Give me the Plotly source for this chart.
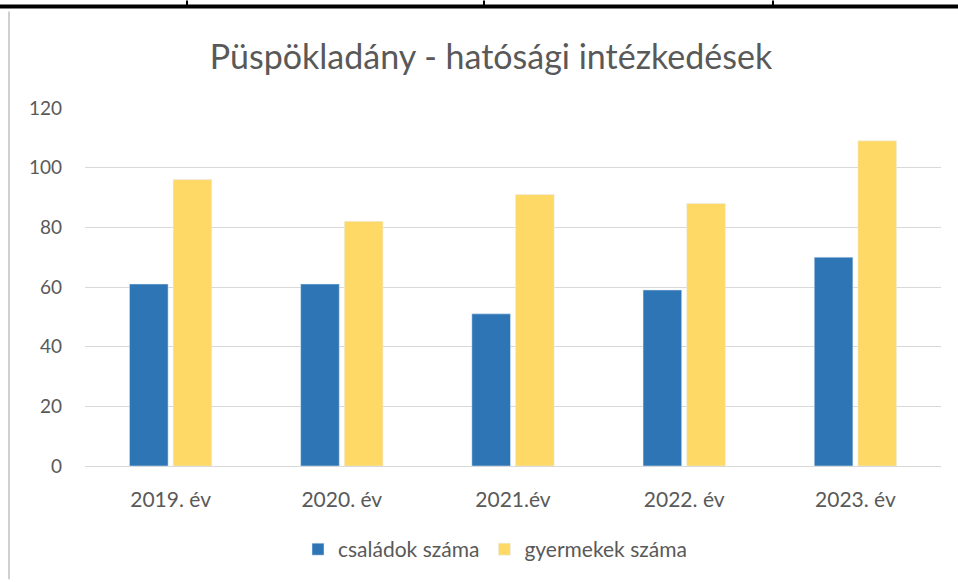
"""Püspökladány - hatósági intézkedések, grouped bar chart."""

import plotly.graph_objects as go

years = ["2019. év", "2020. év", "2021.év", "2022. év", "2023. év"]
csaladok = [61, 61, 51, 59, 70]
gyermekek = [96, 82, 91, 88, 109]

_BLUE = "#2E75B6"
_YELLOW = "#FFD966"
_TEXT = "#595959"
_GRID = "#D9D9D9"
_FONT = "Lato, 'Open Sans', sans-serif"

W, H = 958, 582
L, R, T, B = 85, 941, 108, 468


def px(x):
    return (x - L) / (R - L)


def py(y):
    return (B - y) / (B - T)


fig = go.Figure()
fig.add_trace(go.Bar(x=years, y=csaladok, name="családok száma", marker_color=_BLUE))
fig.add_trace(go.Bar(x=years, y=gyermekek, name="gyermekek száma", marker_color=_YELLOW))

shapes = [
    # table border remnants around the chart
    dict(type="line", xref="paper", yref="paper", x0=px(0), x1=px(W), y0=py(6), y1=py(6),
         line=dict(color="black", width=4)),
    dict(type="line", xref="paper", yref="paper", x0=px(9), x1=px(9), y0=py(11), y1=py(H),
         line=dict(color="#D0D0D0", width=2)),
]
for xv in (187, 484, 773):
    shapes.append(dict(type="line", xref="paper", yref="paper", x0=px(xv), x1=px(xv),
                       y0=py(0), y1=py(5), line=dict(color="black", width=2)))

fig.update_layout(
    width=W, height=H,
    margin=dict(l=L, r=W - R, t=T, b=H - B),
    paper_bgcolor="white", plot_bgcolor="white",
    font=dict(family=_FONT, color=_TEXT, size=19),
    title=dict(text="Püspökladány - hatósági intézkedések", x=491 / W, xanchor="center",
               xref="container", y=1 - 57 / H, yanchor="middle", yref="container",
               font=dict(size=34, color=_TEXT)),
    barmode="group", bargap=0.49, bargroupgap=0.115,
    xaxis=dict(showgrid=False, showline=True, linecolor=_GRID, linewidth=1,
               ticks="", ticklabelstandoff=15, tickfont=dict(size=21)),
    yaxis=dict(range=[0, 120], dtick=20, showgrid=True, gridcolor=_GRID, gridwidth=1,
               zeroline=False, showline=False, ticks="", ticklabelstandoff=22,
               tickfont=dict(size=19)),
    legend=dict(orientation="h", x=px(495), xanchor="center", y=py(552), yanchor="middle",
                font=dict(size=21), itemwidth=30, traceorder="normal"),
    shapes=shapes,
    showlegend=True,
)

fig.write_html("out.html", config={"displayModeBar": False},
               post_script="document.body.style.margin='0';")
